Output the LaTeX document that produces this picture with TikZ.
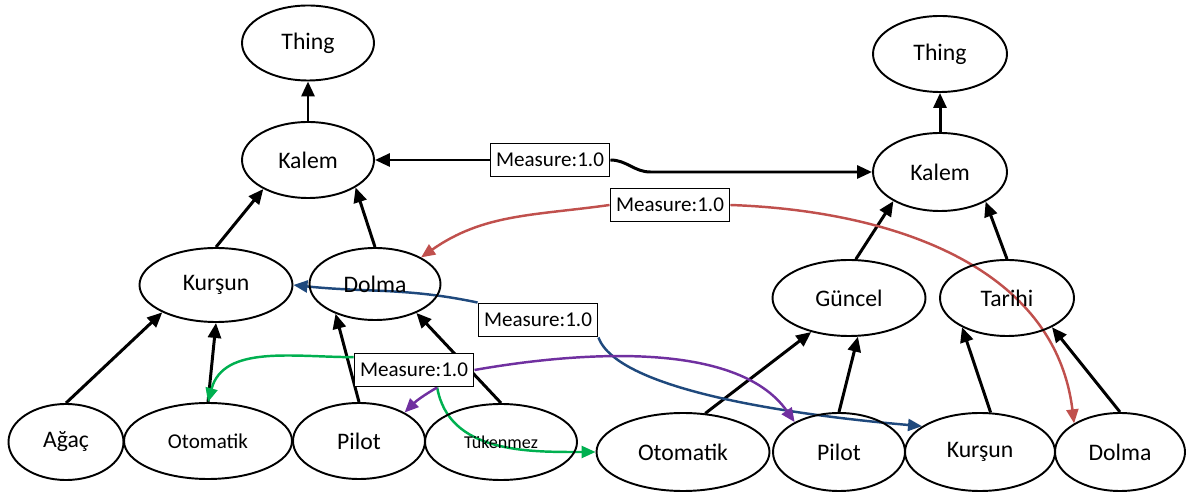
\documentclass[tikz,border=0pt]{standalone}
\usepackage{fontspec}
\setmainfont{Carlito}
\usetikzlibrary{shapes.geometric,arrows.meta}
\pgfdeclarelayer{back}
\pgfsetlayers{back,main}
\definecolor{mred}{HTML}{C0504D}
\definecolor{mblue}{HTML}{1F497D}
\definecolor{mgreen}{HTML}{00B050}
\definecolor{mpurple}{HTML}{7030A0}
\begin{document}
\begin{tikzpicture}[x=0.02cm,y=-0.02cm,
  cls/.style 2 args={ellipse,draw,line width=1.1pt,inner sep=0pt,minimum width=#1*0.02cm,minimum height=#2*0.02cm,font=\fontsize{13.5}{16}\selectfont},
  msr/.style={draw,fill=white,line width=1.1pt,inner sep=0pt,minimum width=2.38cm,minimum height=0.66cm,font=\fontsize{12}{14}\selectfont},
  isa/.style={line width=1.7pt,-{Triangle[length=0.3cm,width=0.26cm]}},
  sim/.style={line width=1.4pt,draw=#1,-{Triangle[length=0.28cm,width=0.24cm]}}]
\useasboundingbox (0,0) rectangle (1200,499);
\node[cls={132}{75}] (thingL) at (308,43) {Thing};
\node[cls={132}{76}] (kalemL) at (308,160) {Kalem};
\node[cls={153}{74}] (kurL) at (216,285) {Kurşun};
\node[cls={131}{72}] (dolmaL) at (375,284) {Dolma};
\node[cls={115}{76}] (agac) at (66,442) {Ağaç};
\node[cls={168}{76},font=\fontsize{12}{14}\selectfont] (otoL) at (208,441) {Otomatik};
\node[cls={132}{76}] (pilotL) at (359,441) {Pilot};
\node[cls={152}{76},font=\fontsize{10.3}{12}\selectfont] (tuk) at (501,442) {Tükenmez};
\node[cls={134}{76}] (thingR) at (940,54) {Thing};
\node[cls={134}{78}] (kalemR) at (940,172) {Kalem};
\node[cls={153}{76}] (guncel) at (849,298) {Güncel};
\node[cls={134}{76}] (tarihi) at (1007,298) {Tarihi};
\node[cls={173}{78}] (otoR) at (683,452) {Otomatik};
\node[cls={132}{78}] (pilotR) at (839,452) {Pilot};
\node[cls={150}{78}] (kurR) at (980,452) {Kurşun};
\node[cls={130}{78}] (dolmaR) at (1120,452) {Dolma};
\node[msr] (m1) at (550,160) {Measure:1.0};
\node[msr] (m2) at (670,205) {Measure:1.0};
\node[msr] (m3) at (538,320) {Measure:1.0};
\node[msr] (m4) at (414,370) {Measure:1.0};
\begin{pgfonlayer}{back}
\draw[isa] (kalemL) -- (thingL);
\draw[isa] (kurL.north) -- (kalemL.213);
\draw[isa] (dolmaL.north) -- (kalemL.330);
\draw[isa] (agac.north) -- (kurL.207);
\draw[isa] (otoL.north) -- (kurL.south);
\draw[isa] (pilotL.north) -- (dolmaL.217);
\draw[isa] (tuk.north) -- (dolmaL.325);
\draw[isa] (kalemR) -- (thingR);
\draw[isa] (guncel.80) -- (kalemR.212);
\draw[isa] (tarihi.north) -- (kalemR.327);
\draw[isa] (otoR.60) -- (guncel.222);
\draw[isa] (pilotR.north) -- (guncel.283);
\draw[isa] (kurR.75) -- (tarihi.213);
\draw[isa] (dolmaR.north) -- (tarihi.327);
\draw[isa] (m1) -- (kalemL);
\draw[isa] (m1.east) to[out=0,in=180] ++(40,12) -- (kalemR.west);
\draw[sim=mred] (m2.west) to[out=188,in=35] (dolmaL.30);
\draw[sim=mred] (m2.east) to[out=-2,in=97] (dolmaR.148);
\draw[sim=mblue] (m3.north west) to[out=168,in=-6] (kurL.east);
\draw[sim=mblue] (m3.south east) to[out=-70,in=175,looseness=0.5] (kurR.156);
\draw[sim=mgreen] (m4.168) to[out=180,in=75] (otoL.north);
\draw[sim=mgreen] (m4.323) to[out=-80,in=180] (otoR.west);
\draw[sim=mpurple] (m4.323) to[out=210,in=45] (pilotL.32);
\draw[sim=mpurple] (m4.east) to[out=10,in=125,looseness=0.8] (pilotR.146);
\end{pgfonlayer}
\end{tikzpicture}
\end{document}
